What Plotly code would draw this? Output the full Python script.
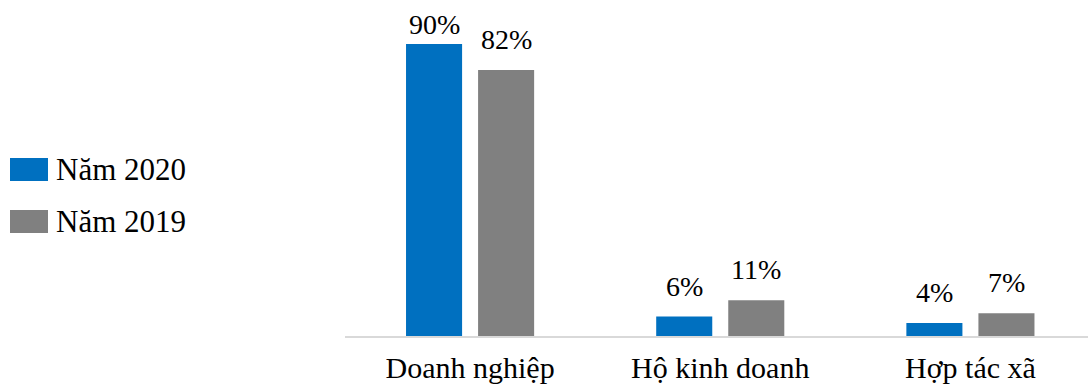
import plotly.graph_objects as go

categories = ["Doanh nghiệp", "Hộ kinh doanh", "Hợp tác xã"]
series_names = ["Năm 2020", "Năm 2019"]
values_2020 = [90, 6, 4]
values_2019 = [82, 11, 7]
colors = ["#0070C0", "#808080"]

FONT = "Liberation Serif"
FS_LBL = 28
FS = 31

fig = go.Figure()
offsets = [-36, 36]
for k, (name, vals, col) in enumerate(zip(series_names, [values_2020, values_2019], colors)):
    fig.add_trace(go.Bar(
        x=categories, y=vals, name=name, marker=dict(color=col, line=dict(width=0)),
        showlegend=False,
    ))
    for c, v in zip(categories, vals):
        fig.add_annotation(x=c, y=v, xref="x", yref="y", text=f"{v}%", showarrow=False,
                           xshift=offsets[k], yshift=(2 if v > 85 else 13),
                           xanchor="center", yanchor="bottom",
                           font=dict(family=FONT, size=FS_LBL, color="#000000"))

# custom legend (large swatches)
for i, (name, col) in enumerate(zip(series_names, colors)):
    yc = 169.5 + i * 52
    fig.add_shape(type="rect", xref="paper", yref="paper",
                  x0=(10 - 345) / 743, x1=(48 - 345) / 743,
                  y0=(336 - (yc + 11.5)) / 326, y1=(336 - (yc - 11.5)) / 326,
                  fillcolor=col, line=dict(width=0))
    fig.add_annotation(xref="paper", yref="paper", x=(54 - 345) / 743,
                       y=(336 - yc) / 326, text=name, showarrow=False,
                       xanchor="left", yanchor="middle",
                       font=dict(family=FONT, size=FS, color="#000000"))

fig.update_layout(
    width=1088, height=385,
    margin=dict(l=345, r=0, t=10, b=49),
    paper_bgcolor="white", plot_bgcolor="white",
    barmode="group", bargap=0.424, bargroupgap=0.222,
    font=dict(family=FONT, size=FS, color="#000000"),
)
fig.update_xaxes(range=[-0.5, 2.47], showline=True, linecolor="#d9d9d9", linewidth=2,
                 ticks="", showgrid=False, tickfont=dict(family=FONT, size=30, color="#000000"),
                 ticklabelstandoff=4, automargin=False)
fig.update_yaxes(range=[0, 100.5], visible=False, showgrid=False, automargin=False)

fig.write_html("out.html")
